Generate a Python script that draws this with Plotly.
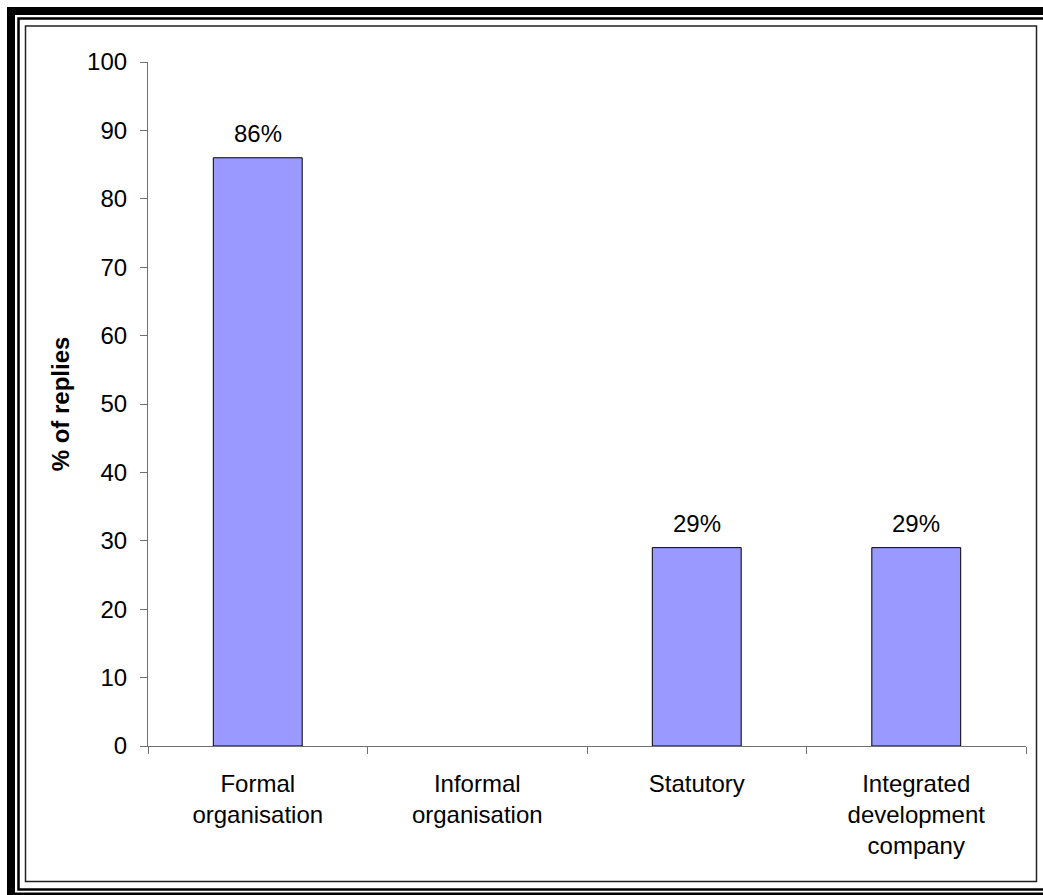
import plotly.graph_objects as go

categories = ["Formal<br>organisation", "Informal<br>organisation", "Statutory",
              "Integrated<br>development<br>company"]
values = [86, 0, 29, 29]
labels = ["86%", "", "29%", "29%"]
y_ticks = [0, 10, 20, 30, 40, 50, 60, 70, 80, 90, 100]

W, H = 1043, 895
L, R, T, B = 148, 17, 62, 149
PW, PH = W - L - R, H - T - B

def px(x):
    return (x - L) / PW

def py(y):
    return (H - B - y) / PH

FONT = "Liberation Sans, Arial, sans-serif"
FS = 24

fig = go.Figure()
fig.add_trace(go.Bar(
    x=categories, y=values,
    marker=dict(color="#9999FF",
                line=dict(color="#000000", width=[1 if v > 0 else 0 for v in values])),
    hoverinfo="skip",
))

for c, v, t in zip(categories, values, labels):
    if t:
        fig.add_annotation(x=c, y=v, text=t, showarrow=False, yanchor="bottom",
                           yshift=9, font=dict(family=FONT, size=FS, color="#000"))

shapes = [
    # outer thick band
    dict(type="rect", xref="paper", yref="paper", x0=px(11), x1=px(1100), y0=py(11), y1=py(896.5),
         line=dict(color="#000", width=8), fillcolor="rgba(0,0,0,0)", layer="above"),
    # thin line
    dict(type="rect", xref="paper", yref="paper", x0=px(18.5), x1=px(1100), y0=py(18.5), y1=py(889.5),
         line=dict(color="#000", width=2.5), fillcolor="rgba(0,0,0,0)", layer="above"),
    # inner border
    dict(type="rect", xref="paper", yref="paper", x0=px(25.5), x1=px(1036.5), y0=py(26), y1=py(881.5),
         line=dict(color="#222", width=1.5), fillcolor="rgba(0,0,0,0)", layer="above"),
]

fig.update_layout(
    width=W, height=H,
    margin=dict(l=L, r=R, t=T, b=B, pad=0),
    paper_bgcolor="white", plot_bgcolor="white",
    bargap=0.595,
    showlegend=False,
    shapes=shapes,
    font=dict(family=FONT, size=FS, color="#000"),
    xaxis=dict(
        type="category", tickson="boundaries", ticks="outside", ticklen=7,
        tickcolor="#707070", showline=True, linecolor="#707070", linewidth=1.2,
        showgrid=False, zeroline=False, tickfont=dict(family=FONT, size=FS, color="#000"),
        ticklabelstandoff=16, fixedrange=True,
    ),
    yaxis=dict(
        range=[0, 100], tickvals=y_ticks, ticks="outside", ticklen=7,
        tickcolor="#707070", showline=True, linecolor="#707070", linewidth=1.2,
        showgrid=False, zeroline=False, tickfont=dict(family=FONT, size=FS, color="#000"),
        ticklabelstandoff=8,
        title=dict(text="<b>% of replies</b>", font=dict(family=FONT, size=24, color="#000"),
                   standoff=10),
        fixedrange=True,
    ),
)

fig.write_html("out.html", config={"displayModeBar": False})
